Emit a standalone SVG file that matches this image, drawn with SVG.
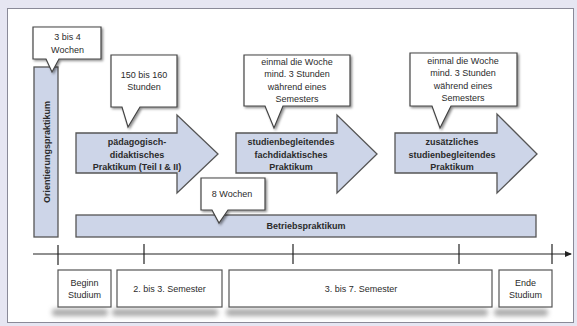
<svg xmlns="http://www.w3.org/2000/svg" width="577" height="326" viewBox="0 0 577 326">
<defs>
<style>
text{font-family:"Liberation Sans",Arial,sans-serif;font-size:9px;fill:#2b2b2b;text-anchor:middle;dominant-baseline:central}
.b{font-weight:bold}
.shape{fill:#cdd5e8;stroke:#555;stroke-width:1.3}
.call{fill:#fff;stroke:#444;stroke-width:1.2;filter:url(#ds)}
.box{fill:#fff;stroke:#555;stroke-width:1.2}
.sh{fill:#a8a8a8;filter:url(#blur)}
.axis{stroke:#222;stroke-width:1.2;fill:none}
</style>
<filter id="ds" x="-20%" y="-20%" width="140%" height="140%">
<feDropShadow dx="1.5" dy="1.5" stdDeviation="1" flood-color="#000" flood-opacity="0.45"/>
</filter>
<filter id="blur" x="-20%" y="-100%" width="140%" height="300%">
<feGaussianBlur stdDeviation="2.5"/>
</filter>
<marker id="arr" markerWidth="8" markerHeight="8" refX="6" refY="4" orient="auto" markerUnits="userSpaceOnUse">
<path d="M0,1 L7,4 L0,7 Z" fill="#222"/>
</marker>
</defs>
<rect x="0" y="0" width="577" height="326" fill="#e6e6f2"/>
<rect x="7.5" y="8.5" width="566" height="314" fill="#fff" stroke="#8a8a98" stroke-width="1"/>

<g id="orientierungspraktikum">
<rect class="shape" x="34" y="67" width="24" height="170"/>
<text class="b" transform="translate(46.5,152) rotate(-90)">Orientierungspraktikum</text>
</g>

<g id="arrow-paed">
<path class="shape" d="M76,133 H177 V115 L218,154 L177,193 V173 H76 Z"/>
<text class="b" x="137" y="142">pädagogisch-</text>
<text class="b" x="137" y="155">didaktisches</text>
<text class="b" x="137" y="167">Praktikum (Teil I &amp; II)</text>
</g>

<g id="arrow-fach">
<path class="shape" d="M236,133 H337 V115 L377,154 L337,193 V173 H236 Z"/>
<text class="b" x="291" y="142">studienbegleitendes</text>
<text class="b" x="291" y="155">fachdidaktisches</text>
<text class="b" x="291" y="167">Praktikum</text>
</g>

<g id="arrow-zus">
<path class="shape" d="M395,133 H497 V114 L537,154 L497,193 V173 H395 Z"/>
<text class="b" x="452" y="142">zusätzliches</text>
<text class="b" x="452" y="155">studienbegleitendes</text>
<text class="b" x="452" y="167">Praktikum</text>
</g>

<g id="betriebspraktikum">
<rect class="shape" x="76" y="215" width="460" height="22"/>
<text class="b" x="306" y="226">Betriebspraktikum</text>
</g>

<g id="callout-3-4-wochen">
<path class="call" d="M33,27 H101 V59 H59 L52,72 L46,59 H33 Z"/>
<text x="67.5" y="37">3 bis 4</text>
<text x="67.5" y="50">Wochen</text>
</g>

<g id="callout-150-160">
<path class="call" d="M111,55 H177 V107 H140 L128,127 L122,107 H111 Z"/>
<text x="144" y="75">150 bis 160</text>
<text x="144" y="87">Stunden</text>
</g>

<g id="callout-fach">
<path class="call" d="M244,55 H350 V106 H283 L274,128 L265,106 H244 Z"/>
<text x="297" y="62">einmal die Woche</text>
<text x="297" y="74">mind. 3 Stunden</text>
<text x="297" y="87">während eines</text>
<text x="297" y="99">Semesters</text>
</g>

<g id="callout-zus">
<path class="call" d="M410,53 H517 V106 H451 L440,128 L432,106 H410 Z"/>
<text x="463" y="61">einmal die Woche</text>
<text x="463" y="73">mind. 3 Stunden</text>
<text x="463" y="86">während eines</text>
<text x="463" y="98">Semesters</text>
</g>

<g id="callout-8-wochen">
<path class="call" d="M201,178 H265 V210 H228 L219,223 L212,210 H201 Z"/>
<text x="232" y="194">8  Wochen</text>
</g>

<g id="connectors">
<line class="axis" x1="33" y1="254" x2="571" y2="254" marker-end="url(#arr)"/>
<line class="axis" x1="58" y1="245" x2="58" y2="265"/>
<line class="axis" x1="144" y1="244" x2="144" y2="264"/>
<line class="axis" x1="293" y1="244" x2="293" y2="264"/>
<line class="axis" x1="459" y1="244" x2="459" y2="264"/>
<line class="axis" x1="552" y1="244" x2="552" y2="264"/>
</g>

<g id="shadows">
<rect class="sh" x="52" y="309" width="56" height="7" rx="3"/>
<rect class="sh" x="112" y="309" width="106" height="7" rx="3"/>
<rect class="sh" x="226" y="309" width="262" height="7" rx="3"/>
<rect class="sh" x="494" y="309" width="54" height="7" rx="3"/>
</g>

<g id="beginn-studium">
<rect class="box" x="58" y="270" width="53" height="37"/>
<text x="84.5" y="283">Beginn</text>
<text x="84.5" y="295">Studium</text>
</g>

<g id="sem-2-3">
<rect class="box" x="117" y="270" width="105" height="37"/>
<text x="169.5" y="288.5">2. bis 3. Semester</text>
</g>

<g id="sem-3-7">
<rect class="box" x="229" y="270" width="263" height="37"/>
<text x="361" y="288.5">3. bis 7. Semester</text>
</g>

<g id="ende-studium">
<rect class="box" x="499" y="270" width="53" height="37"/>
<text x="525.5" y="283">Ende</text>
<text x="525.5" y="295">Studium</text>
</g>
</svg>
